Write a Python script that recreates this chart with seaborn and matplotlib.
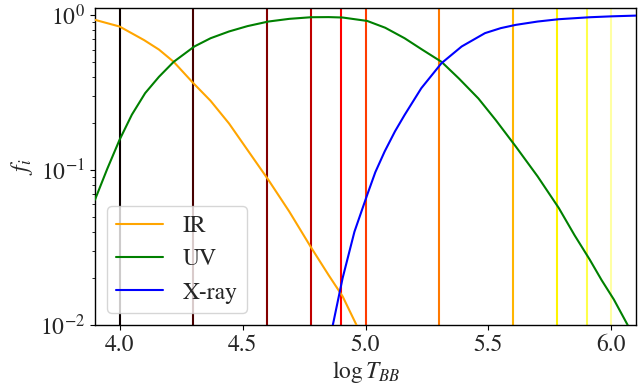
import matplotlib
matplotlib.use("Agg")
import matplotlib.pyplot as plt
import seaborn as sns

# fractions of black-body emission per band
ir_logT = [3.90, 4.00, 4.10, 4.16, 4.22, 4.30, 4.37, 4.445, 4.52, 4.605, 4.69, 4.778,
           4.85, 4.907, 4.966]
ir_frac = [0.933, 0.845, 0.69, 0.60, 0.50, 0.364, 0.28, 0.20, 0.135, 0.0865, 0.054, 0.0318,
           0.021, 0.0153, 0.0098]

uv_logT = [3.90, 3.95, 4.00, 4.05, 4.104, 4.16, 4.22, 4.304, 4.37, 4.445, 4.52, 4.605,
           4.69, 4.778, 4.85, 4.907, 5.007, 5.08, 5.159, 5.23, 5.309, 5.38, 5.459, 5.53,
           5.611, 5.70, 5.786, 5.85, 5.912, 5.96, 6.01, 6.069]
uv_frac = [0.0644, 0.102, 0.157, 0.228, 0.314, 0.40, 0.50, 0.628, 0.71, 0.785, 0.85, 0.91,
           0.947, 0.97, 0.972, 0.966, 0.918, 0.83, 0.71, 0.60, 0.50, 0.39, 0.29, 0.21,
           0.142, 0.091, 0.0569, 0.038, 0.0264, 0.0195, 0.0146, 0.0098]

xray_logT = [4.866, 4.907, 4.955, 5.007, 5.04, 5.078, 5.12, 5.159, 5.227, 5.309, 5.391,
             5.486, 5.55, 5.611, 5.70, 5.786, 5.912, 6.00, 6.11]
xray_frac = [0.0098, 0.0201, 0.040, 0.0693, 0.097, 0.132, 0.178, 0.227, 0.338, 0.49, 0.628,
             0.766, 0.825, 0.866, 0.91, 0.942, 0.97, 0.983, 0.995]

# temperatures marked with vertical lines
marked_logT = [4.0, 4.3, 4.6, 4.78, 4.9, 5.0, 5.3, 5.6, 5.78, 5.9, 6.0]

sns.set_theme(style="ticks", context="notebook")
plt.rcParams["font.family"] = ["STIXGeneral", "DejaVu Serif"]
plt.rcParams["mathtext.fontset"] = "stix"
plt.rcParams["xtick.direction"] = "out"
plt.rcParams["ytick.direction"] = "out"

fig = plt.figure(figsize=(6.44, 3.89), dpi=100)
ax = fig.add_axes([0.1475, 0.1645, 0.8401, 0.8145])

# vertical markers coloured along the 'hot' colormap
cmap = plt.cm.hot
for i, t in enumerate(marked_logT):
    ax.axvline(t, color=cmap(i / len(marked_logT)), lw=1.5, zorder=1)

sns.lineplot(x=ir_logT, y=ir_frac, color="orange", lw=1.5, label="IR", ax=ax, zorder=3)
sns.lineplot(x=uv_logT, y=uv_frac, color="green", lw=1.5, label="UV", ax=ax, zorder=3)
sns.lineplot(x=xray_logT, y=xray_frac, color="blue", lw=1.5, label="X-ray", ax=ax, zorder=3)

ax.set_yscale("log")
ax.set_xlim(3.9, 6.1)
ax.set_ylim(0.01, 1.11)
ax.set_xticks([4.0, 4.5, 5.0, 5.5, 6.0])
ax.set_xticklabels(["4.0", "4.5", "5.0", "5.5", "6.0"])
ax.tick_params(axis="both", which="major", labelsize=17, length=3.5, width=0.8, color="black")
ax.tick_params(axis="y", which="minor", length=2, width=0.6, color="black")
for sp in ax.spines.values():
    sp.set_color("black")
    sp.set_linewidth(1.0)

ax.set_xlabel(r"$\log T_{BB}$", fontsize=17, labelpad=2)
ax.set_ylabel(r"$f_i$", fontsize=17, labelpad=4)

ax.legend(loc="lower left", fontsize=17, frameon=True, framealpha=0.8,
          edgecolor="0.8", fancybox=True, handlelength=2.0)

fig.savefig("out.png", dpi=100)
